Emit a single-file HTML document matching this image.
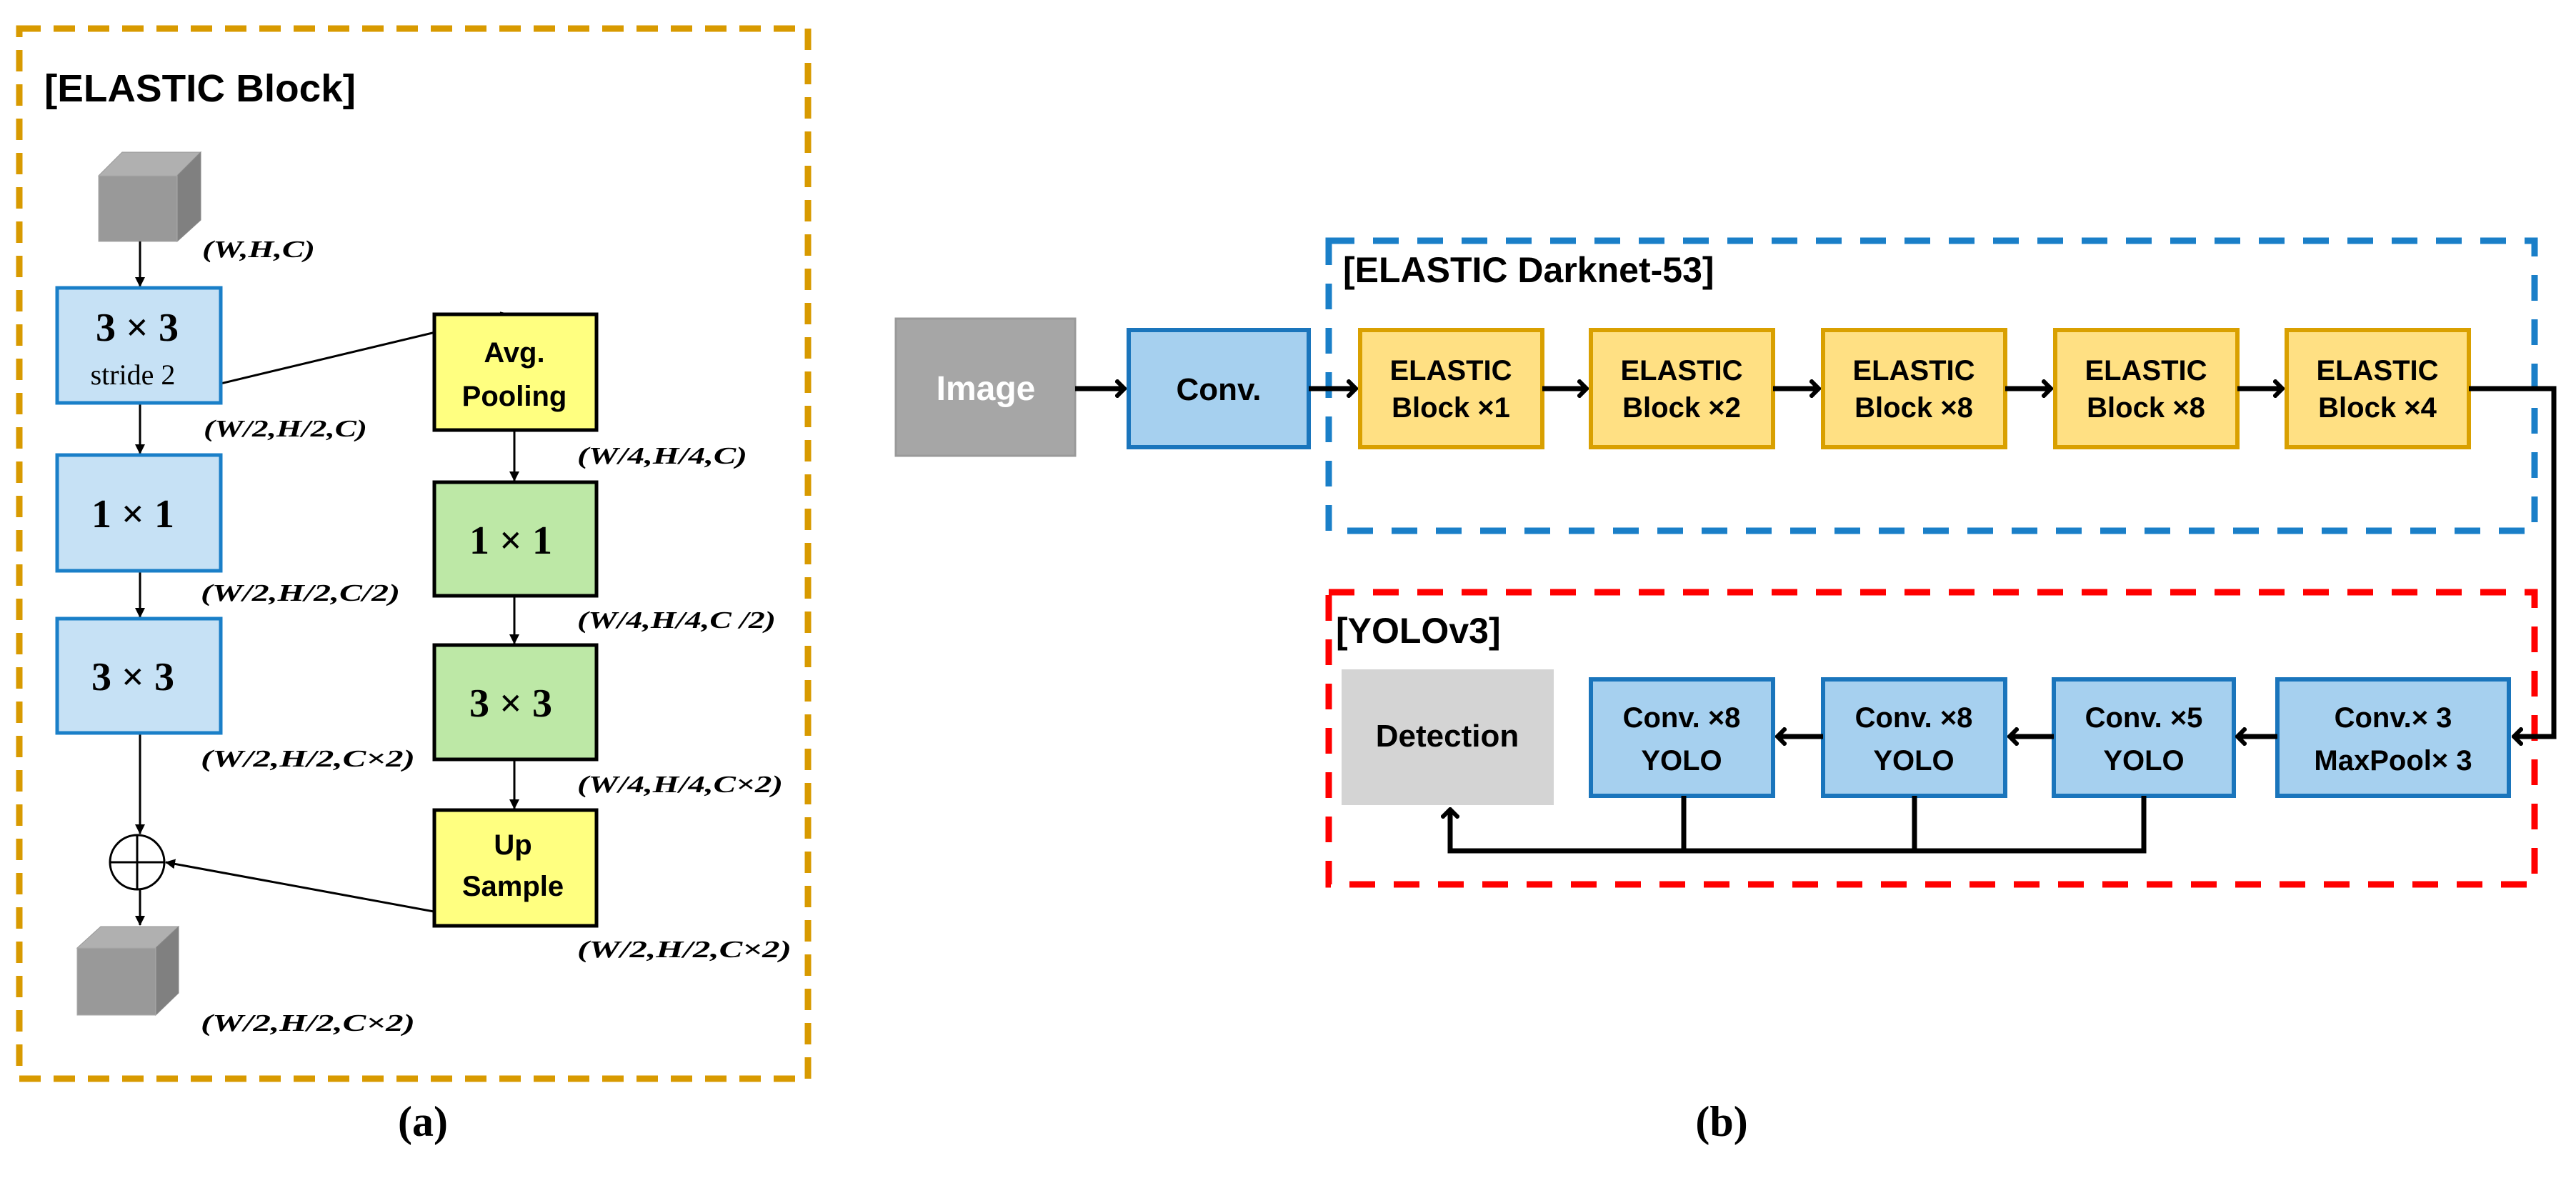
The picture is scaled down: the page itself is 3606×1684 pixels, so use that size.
<!DOCTYPE html>
<html><head><meta charset="utf-8"><style>
body{margin:0;background:#fff;}
svg{display:block}
.s{font-family:"Liberation Sans",sans-serif;font-weight:bold}
.m{font-family:"Liberation Serif",serif;font-weight:bold}
.l{font-family:"Liberation Serif",serif;font-weight:bold;font-style:italic;font-size:34px}
</style></head><body>
<svg width="3606" height="1684" viewBox="0 0 3606 1684" xmlns="http://www.w3.org/2000/svg">
<defs>
<marker id="a" markerWidth="14" markerHeight="14" refX="13" refY="7" orient="auto" markerUnits="userSpaceOnUse"><path d="M0,0 L14,7 L0,14 Z" fill="#000"/></marker>
<marker id="b" markerWidth="16" markerHeight="26" refX="13" refY="13" orient="auto" markerUnits="userSpaceOnUse"><path d="M1,1 L13,13 L1,25" fill="none" stroke="#000" stroke-width="6"/></marker>
</defs>
<!-- (a) panel -->
<rect x="27" y="40" width="1104" height="1470" fill="none" stroke="#d89a00" stroke-width="9" stroke-dasharray="30,18"/>
<text x="62" y="142" class="s" font-size="54" textLength="436" lengthAdjust="spacingAndGlyphs">[ELASTIC Block]</text>
<polygon points="138,246 171,213 281,213 248,246" fill="#b0b0b0" stroke="#999"/>
<polygon points="248,246 281,213 281,308 248,338" fill="#808080" stroke="#888"/>
<rect x="138" y="246" width="110" height="92" fill="#999" stroke="#aaa"/>
<g stroke="#000" stroke-width="3" fill="none">
<line x1="196" y1="338" x2="196" y2="401" marker-end="url(#a)"/>
<line x1="196" y1="564" x2="196" y2="635" marker-end="url(#a)"/>
<line x1="196" y1="799" x2="196" y2="864" marker-end="url(#a)"/>
<line x1="196" y1="1026" x2="196" y2="1167" marker-end="url(#a)"/>
<line x1="196" y1="1245" x2="196" y2="1295" marker-end="url(#a)"/>
<line x1="196" y1="564" x2="714" y2="440" marker-end="url(#a)"/>
<line x1="716" y1="1296" x2="232" y2="1207" marker-end="url(#a)"/>
<line x1="720" y1="602" x2="720" y2="673" marker-end="url(#a)"/>
<line x1="720" y1="834" x2="720" y2="901" marker-end="url(#a)"/>
<line x1="720" y1="1063" x2="720" y2="1132" marker-end="url(#a)"/>
</g>
<g stroke="#1a7fc8" stroke-width="5" fill="#c6e1f5">
<rect x="80" y="403" width="229" height="161"/>
<rect x="80" y="637" width="229" height="162"/>
<rect x="80" y="866" width="229" height="160"/>
</g>
<g stroke="#000" stroke-width="5">
<rect x="608" y="440" width="227" height="162" fill="#ffff80"/>
<rect x="608" y="675" width="227" height="159" fill="#bde8a6"/>
<rect x="608" y="903" width="227" height="160" fill="#bde8a6"/>
<rect x="608" y="1134" width="227" height="162" fill="#ffff80"/>
</g>
<g class="m" text-anchor="middle" font-size="56">
<text x="192" y="477">3 × 3</text>
<text x="186" y="538" font-size="40" font-weight="normal">stride 2</text>
<text x="186" y="738">1 × 1</text>
<text x="186" y="966">3 × 3</text>
<text x="715" y="775">1 × 1</text>
<text x="715" y="1003">3 × 3</text>
</g>
<g class="s" text-anchor="middle" font-size="40">
<text x="720" y="507">Avg.</text>
<text x="720" y="568">Pooling</text>
<text x="718" y="1196">Up</text>
<text x="718" y="1254">Sample</text>
</g>
<circle cx="192" cy="1207" r="38" fill="none" stroke="#000" stroke-width="3"/>
<line x1="154" y1="1207" x2="230" y2="1207" stroke="#000" stroke-width="3"/>
<line x1="192" y1="1169" x2="192" y2="1245" stroke="#000" stroke-width="3"/>
<polygon points="108,1327 141,1297 250,1297 218,1327" fill="#b0b0b0" stroke="#999"/>
<polygon points="218,1327 250,1297 250,1390 218,1421" fill="#808080" stroke="#888"/>
<rect x="108" y="1327" width="110" height="94" fill="#999" stroke="#aaa"/>
<g class="l">
<text x="283" y="360" textLength="158" lengthAdjust="spacingAndGlyphs">(W,H,C)</text>
<text x="285" y="611" textLength="229" lengthAdjust="spacingAndGlyphs">(W/2,H/2,C)</text>
<text x="281" y="841" textLength="279" lengthAdjust="spacingAndGlyphs">(W/2,H/2,C/2)</text>
<text x="281" y="1073" textLength="300" lengthAdjust="spacingAndGlyphs">(W/2,H/2,C×2)</text>
<text x="808" y="649" textLength="238" lengthAdjust="spacingAndGlyphs">(W/4,H/4,C)</text>
<text x="808" y="879" textLength="278" lengthAdjust="spacingAndGlyphs">(W/4,H/4,C /2)</text>
<text x="808" y="1109" textLength="288" lengthAdjust="spacingAndGlyphs">(W/4,H/4,C×2)</text>
<text x="808" y="1340" textLength="300" lengthAdjust="spacingAndGlyphs">(W/2,H/2,C×2)</text>
<text x="281" y="1443" textLength="300" lengthAdjust="spacingAndGlyphs">(W/2,H/2,C×2)</text>
</g>
<text x="592" y="1590" class="m" font-size="60" text-anchor="middle" font-weight="normal">(<tspan font-weight="bold">a</tspan>)</text>
<!-- (b) panel -->
<rect x="1860" y="337" width="1688" height="406" fill="none" stroke="#1a7fc8" stroke-width="9" stroke-dasharray="36,26"/>
<rect x="1860" y="829" width="1688" height="409" fill="none" stroke="#ff0000" stroke-width="9" stroke-dasharray="36,26"/>
<text x="1880" y="395" class="s" font-size="50">[ELASTIC Darknet-53]</text>
<text x="1870" y="900" class="s" font-size="50">[YOLOv3]</text>
<rect x="1254" y="446" width="251" height="192" fill="#a6a6a6" stroke="#999" stroke-width="3"/>
<text x="1380" y="560" class="s" font-size="48" fill="#fff" text-anchor="middle">Image</text>
<rect x="1580" y="462" width="252" height="164" fill="#a6d0ef" stroke="#1a75bc" stroke-width="6"/>
<text x="1706" y="560" class="s" font-size="44" text-anchor="middle">Conv.</text>
<g fill="#ffe083" stroke="#d9a000" stroke-width="6">
<rect x="1904" y="462" width="255" height="164"/>
<rect x="2227" y="462" width="255" height="164"/>
<rect x="2552" y="462" width="255" height="164"/>
<rect x="2877" y="462" width="255" height="164"/>
<rect x="3201" y="462" width="255" height="164"/>
</g>
<g class="s" font-size="40" text-anchor="middle">
<text x="2031" y="532">ELASTIC</text><text x="2031" y="584">Block ×1</text>
<text x="2354" y="532">ELASTIC</text><text x="2354" y="584">Block ×2</text>
<text x="2679" y="532">ELASTIC</text><text x="2679" y="584">Block ×8</text>
<text x="3004" y="532">ELASTIC</text><text x="3004" y="584">Block ×8</text>
<text x="3328" y="532">ELASTIC</text><text x="3328" y="584">Block ×4</text>
</g>
<rect x="1878" y="937" width="297" height="190" fill="#d4d4d4"/>
<text x="2026" y="1045" class="s" font-size="44" text-anchor="middle">Detection</text>
<g fill="#a6d0ef" stroke="#1a75bc" stroke-width="6">
<rect x="2227" y="951" width="255" height="163"/>
<rect x="2552" y="951" width="255" height="163"/>
<rect x="2875" y="951" width="252" height="163"/>
<rect x="3188" y="951" width="324" height="163"/>
</g>
<g class="s" font-size="40" text-anchor="middle">
<text x="2354" y="1018">Conv. ×8</text><text x="2354" y="1078">YOLO</text>
<text x="2679" y="1018">Conv. ×8</text><text x="2679" y="1078">YOLO</text>
<text x="3001" y="1018">Conv. ×5</text><text x="3001" y="1078">YOLO</text>
<text x="3350" y="1018">Conv.× 3</text><text x="3350" y="1078">MaxPool× 3</text>
</g>
<g stroke="#000" stroke-width="7" fill="none">
<line x1="1505" y1="544" x2="1574" y2="544" marker-end="url(#b)"/>
<line x1="1832" y1="544" x2="1898" y2="544" marker-end="url(#b)"/>
<line x1="2159" y1="544" x2="2221" y2="544" marker-end="url(#b)"/>
<line x1="2482" y1="544" x2="2546" y2="544" marker-end="url(#b)"/>
<line x1="2807" y1="544" x2="2871" y2="544" marker-end="url(#b)"/>
<line x1="3132" y1="544" x2="3195" y2="544" marker-end="url(#b)"/>
<polyline points="3456,544 3575,544 3575,1031 3519,1031" marker-end="url(#b)"/>
<line x1="3188" y1="1031" x2="3132" y2="1031" marker-end="url(#b)"/>
<line x1="2875" y1="1031" x2="2813" y2="1031" marker-end="url(#b)"/>
<line x1="2552" y1="1031" x2="2488" y2="1031" marker-end="url(#b)"/>
<polyline points="3001,1114 3001,1191 2030,1191 2030,1133" marker-end="url(#b)"/>
<line x1="2357" y1="1114" x2="2357" y2="1191"/>
<line x1="2680" y1="1114" x2="2680" y2="1191"/>
</g>
<text x="2410" y="1590" class="m" font-size="60" text-anchor="middle" font-weight="normal">(<tspan font-weight="bold">b</tspan>)</text>
</svg>
</body></html>
